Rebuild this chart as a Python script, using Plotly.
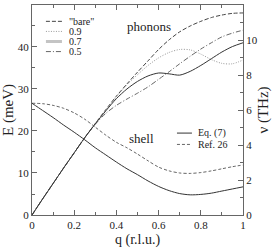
import plotly.graph_objects as go

q = [0, 0.05, 0.1, 0.15, 0.2, 0.25, 0.3, 0.35, 0.4, 0.45, 0.5,
     0.55, 0.6, 0.65, 0.7, 0.75, 0.8, 0.85, 0.9, 0.95, 1.0]

# phonon branches (meV)
ph_bare = [0, 3.8, 7.5, 11.2, 14.8, 18.4, 21.8, 25.1, 28.3, 31.2, 34.0,
           36.7, 39.4, 41.7, 43.6, 45.0, 46.1, 47.0, 47.6, 48.0, 48.1]
ph_09 = [0, 3.8, 7.5, 11.2, 14.8, 18.4, 21.8, 25.0, 28.1, 31.0, 33.4,
         35.6, 37.4, 38.7, 39.4, 39.3, 38.3, 37.0, 36.1, 36.0, 36.9]
ph_07 = [0, 3.8, 7.5, 11.2, 14.8, 18.4, 21.7, 24.8, 27.7, 30.0, 31.8,
         33.1, 33.8, 33.6, 33.3, 34.2, 35.6, 37.2, 38.8, 40.1, 41.0]
ph_05 = [0, 3.8, 7.5, 11.2, 14.8, 18.4, 21.6, 24.2, 26.1, 27.6, 29.0,
         30.5, 32.3, 34.1, 36.0, 37.8, 39.5, 41.0, 42.4, 43.3, 44.0]

# shell branches (meV)
sh_eq7 = [26.6, 24.9, 23.2, 21.4, 19.7, 17.9, 16.0, 14.3, 12.6, 11.0, 9.6,
          8.1, 6.8, 5.8, 5.1, 4.8, 4.9, 5.2, 5.7, 6.2, 6.7]
sh_ref26 = [26.6, 26.5, 26.1, 25.4, 24.3, 22.8, 20.9, 19.0, 17.3, 16.0, 14.5,
            12.9, 11.4, 10.5, 10.0, 9.9, 10.1, 10.5, 11.0, 11.5, 11.9]

phonon_labels = ['"bare"', "0.9", "0.7", "0.5"]
shell_labels = ["Eq. (7)", "Ref. 26"]

FONT = "Liberation Serif, Times New Roman, serif"
TXT = "#222"

fig = go.Figure()

styles = {
    "bare": dict(color="#444", width=1, dash="4px,2px"),
    "09": dict(color="#9a9a9a", width=1, dash="1px,1.5px"),
    "07": dict(color="#333", width=1),
    "05": dict(color="#666", width=1, dash="5px,2px,1px,2px"),
    "eq7": dict(color="#333", width=1),
    "ref26": dict(color="#666", width=1, dash="3px,2px"),
}

for ys, key in [(ph_bare, "bare"), (ph_09, "09"), (ph_05, "05"), (ph_07, "07"),
                (sh_ref26, "ref26"), (sh_eq7, "eq7")]:
    fig.add_trace(go.Scatter(x=q, y=ys, mode="lines",
                             line=dict(shape="spline", smoothing=0.8, **styles[key]),
                             showlegend=False, hoverinfo="skip"))

# dummy trace to anchor the THz axis
fig.add_trace(go.Scatter(x=[None], y=[None], yaxis="y2", showlegend=False))

# manual legends
leg1_y = [46.1, 43.7, 41.3, 38.9]
leg1_styles = [styles["bare"], styles["09"], dict(color="#c4c4c4", width=3), styles["05"]]
for lab, yy, st in zip(phonon_labels, leg1_y, leg1_styles):
    fig.add_shape(type="line", xref="x", yref="y", x0=0.066, x1=0.142, y0=yy, y1=yy, line=st)
    fig.add_annotation(x=0.172, y=yy, xref="x", yref="y", text=lab, showarrow=False,
                       xanchor="left", yanchor="middle", borderpad=0,
                       font=dict(family=FONT, size=10, color=TXT))

leg2_y = [19.5, 16.8]
leg2_styles = [styles["eq7"], styles["ref26"]]
for lab, yy, st in zip(shell_labels, leg2_y, leg2_styles):
    fig.add_shape(type="line", xref="x", yref="y", x0=0.687, x1=0.758, y0=yy, y1=yy, line=st)
    fig.add_annotation(x=0.78, y=yy, xref="x", yref="y", text=lab, showarrow=False,
                       xanchor="left", yanchor="middle", borderpad=0,
                       font=dict(family=FONT, size=10, color=TXT))

fig.add_annotation(x=0.555, y=44.8, xref="x", yref="y", text="phonons", showarrow=False,
                   font=dict(family=FONT, size=13, color=TXT))
fig.add_annotation(x=0.519, y=18.1, xref="x", yref="y", text="shell", showarrow=False,
                   font=dict(family=FONT, size=13, color=TXT))
# x-axis title
fig.add_annotation(x=0.5, y=-0.118, xref="paper", yref="paper", text="q (r.l.u.)", showarrow=False,
                   xanchor="center", yanchor="middle", borderpad=0,
                   font=dict(family=FONT, size=14, color=TXT))

axcommon = dict(showgrid=False, zeroline=False, showline=True, linecolor="#666", linewidth=1,
                ticks="inside", ticklen=5, tickcolor="#666", tickwidth=1, automargin=False,
                tickfont=dict(family=FONT, size=11, color=TXT))

fig.update_layout(
    width=275, height=248,
    margin=dict(l=32, r=32, t=5, b=33),
    paper_bgcolor="white", plot_bgcolor="white",
    xaxis=dict(range=[0, 1], dtick=0.2, mirror="ticks",
               minor=dict(dtick=0.1, ticks="inside", ticklen=3, tickcolor="#666"),
               **axcommon),
    yaxis=dict(range=[0, 49.99], dtick=10,
               minor=dict(dtick=5, ticks="inside", ticklen=3, tickcolor="#666"),
               title=dict(text="E (meV)", font=dict(family=FONT, size=15, color=TXT), standoff=0),
               **axcommon),
    yaxis2=dict(range=[0, 12], dtick=2, overlaying="y", side="right",
                minor=dict(dtick=1, ticks="inside", ticklen=3, tickcolor="#666"),
                title=dict(text="ν (THz)", font=dict(family=FONT, size=15, color=TXT), standoff=0),
                **axcommon),
    showlegend=False,
)

fig.write_html("out.html", config={"displayModeBar": False},
               post_script="document.body.style.margin='0';")
